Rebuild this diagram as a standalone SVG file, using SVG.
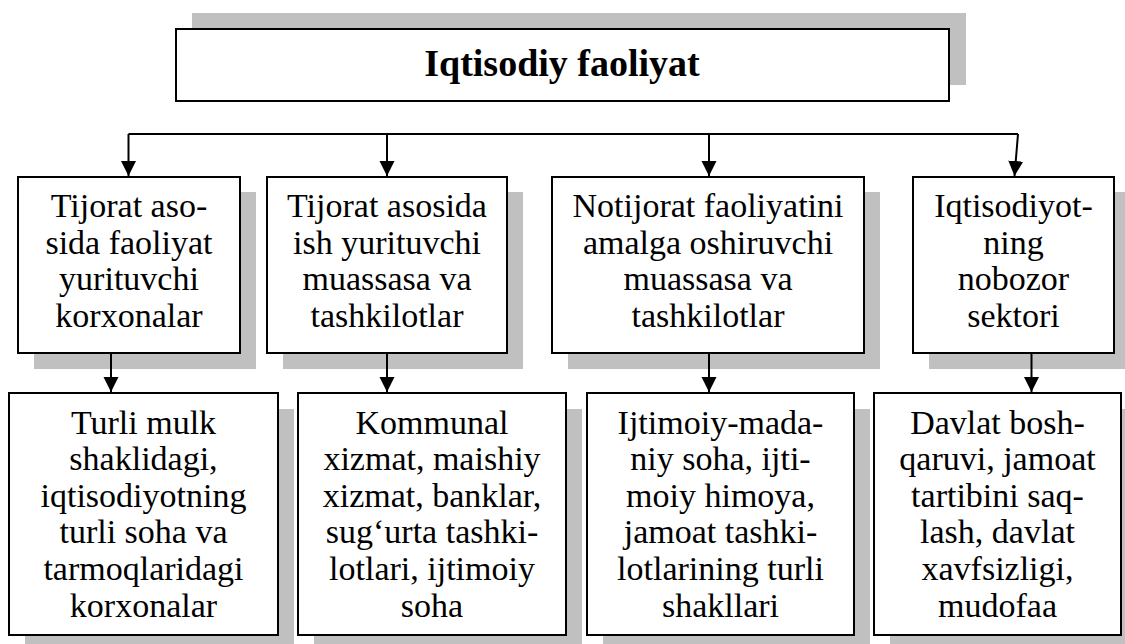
<svg xmlns="http://www.w3.org/2000/svg" width="1125" height="644" viewBox="0 0 1125 644">
  <style>
    .shadow { fill: #c0c0c0; stroke: none; }
    .box { fill: #ffffff; stroke: #000000; stroke-width: 2; }
    text { font-family: "Liberation Serif", "Times New Roman", serif; fill: #000000; text-anchor: middle; }
    .label { font-size: 34px; }
    .title { font-size: 38px; font-weight: bold; }
    .link { fill: none; stroke: #000000; stroke-width: 2; }
  </style>
  <defs>
    <marker id="arrow" markerUnits="userSpaceOnUse" markerWidth="16" markerHeight="16" viewBox="0 0 16 16" refX="15" refY="7.5" orient="auto">
      <path d="M0,0 L15,7.5 L0,15 Z" fill="#000000"/>
    </marker>
  </defs>
  <rect width="1125" height="644" fill="#ffffff"/>

  <!-- top node -->
  <g id="root">
    <rect class="shadow" x="192" y="13" width="774" height="72"/>
    <rect class="box" x="176" y="29" width="773" height="72"/>
    <text class="title" x="562" y="76">Iqtisodiy faoliyat</text>
  </g>

  <!-- first row -->
  <g id="tijorat-korxonalar">
    <rect class="shadow" x="34" y="192" width="222" height="177"/>
    <rect class="box" x="18" y="177" width="222" height="176"/>
    <text class="label" x="129" y="217">Tijorat aso-</text>
    <text class="label" x="129" y="253.5">sida faoliyat</text>
    <text class="label" x="129" y="290">yurituvchi</text>
    <text class="label" x="129" y="326.5">korxonalar</text>
  </g>
  <g id="tijorat-muassasa">
    <rect class="shadow" x="283" y="192" width="240" height="177"/>
    <rect class="box" x="267" y="177" width="240" height="176"/>
    <text class="label" x="387" y="217">Tijorat asosida</text>
    <text class="label" x="387" y="253.5">ish yurituvchi</text>
    <text class="label" x="387" y="290">muassasa va</text>
    <text class="label" x="387" y="326.5">tashkilotlar</text>
  </g>
  <g id="notijorat">
    <rect class="shadow" x="568" y="192" width="312" height="177"/>
    <rect class="box" x="552" y="177" width="312" height="176"/>
    <text class="label" x="708" y="217">Notijorat faoliyatini</text>
    <text class="label" x="708" y="253.5">amalga oshiruvchi</text>
    <text class="label" x="708" y="290">muassasa va</text>
    <text class="label" x="708" y="326.5">tashkilotlar</text>
  </g>
  <g id="nobozor">
    <rect class="shadow" x="929" y="192" width="201" height="177"/>
    <rect class="box" x="913" y="177" width="201" height="176"/>
    <text class="label" x="1013.5" y="217">Iqtisodiyot-</text>
    <text class="label" x="1013.5" y="253.5">ning</text>
    <text class="label" x="1013.5" y="290">nobozor</text>
    <text class="label" x="1013.5" y="326.5">sektori</text>
  </g>

  <!-- second row -->
  <g id="turli-mulk">
    <rect class="shadow" x="25" y="409" width="269" height="242"/>
    <rect class="box" x="9" y="393" width="269" height="242"/>
    <text class="label" x="143.5" y="433.5">Turli mulk</text>
    <text class="label" x="143.5" y="470">shaklidagi,</text>
    <text class="label" x="143.5" y="506.5">iqtisodiyotning</text>
    <text class="label" x="143.5" y="543">turli soha va</text>
    <text class="label" x="143.5" y="580">tarmoqlaridagi</text>
    <text class="label" x="143.5" y="616.5">korxonalar</text>
  </g>
  <g id="kommunal">
    <rect class="shadow" x="314" y="409" width="268" height="242"/>
    <rect class="box" x="298" y="393" width="268" height="242"/>
    <text class="label" x="432" y="433.5">Kommunal</text>
    <text class="label" x="432" y="470">xizmat, maishiy</text>
    <text class="label" x="432" y="506.5">xizmat, banklar,</text>
    <text class="label" x="432" y="543">sug‘urta tashki-</text>
    <text class="label" x="432" y="580">lotlari, ijtimoiy</text>
    <text class="label" x="432" y="616.5">soha</text>
  </g>
  <g id="ijtimoiy">
    <rect class="shadow" x="603" y="409" width="267" height="242"/>
    <rect class="box" x="587" y="393" width="267" height="242"/>
    <text class="label" x="720.5" y="433.5">Ijtimoiy-mada-</text>
    <text class="label" x="720.5" y="470">niy soha, ijti-</text>
    <text class="label" x="720.5" y="506.5">moiy himoya,</text>
    <text class="label" x="720.5" y="543">jamoat tashki-</text>
    <text class="label" x="720.5" y="580">lotlarining turli</text>
    <text class="label" x="720.5" y="616.5">shakllari</text>
  </g>
  <g id="davlat">
    <rect class="shadow" x="890" y="409" width="247" height="242"/>
    <rect class="box" x="874" y="393" width="247" height="242"/>
    <text class="label" x="997.5" y="433.5">Davlat bosh-</text>
    <text class="label" x="997.5" y="470">qaruvi, jamoat</text>
    <text class="label" x="997.5" y="506.5">tartibini saq-</text>
    <text class="label" x="997.5" y="543">lash, davlat</text>
    <text class="label" x="997.5" y="580">xavfsizligi,</text>
    <text class="label" x="997.5" y="616.5">mudofaa</text>
  </g>

  <!-- connectors -->
  <g id="connectors">
    <path class="link" d="M128.5,134 H1018"/>
    <path class="link" d="M128.5,134 V176" marker-end="url(#arrow)"/>
    <path class="link" d="M387,134 V176" marker-end="url(#arrow)"/>
    <path class="link" d="M709,134 V176" marker-end="url(#arrow)"/>
    <path class="link" d="M1018,134 L1014.5,176" marker-end="url(#arrow)"/>
    <path class="link" d="M111,353 V392" marker-end="url(#arrow)"/>
    <path class="link" d="M387,353 V392" marker-end="url(#arrow)"/>
    <path class="link" d="M709,353 V392" marker-end="url(#arrow)"/>
    <path class="link" d="M1031.5,353 V392" marker-end="url(#arrow)"/>
  </g>
</svg>
